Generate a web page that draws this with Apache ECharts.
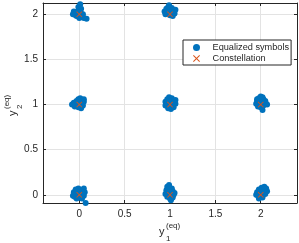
<!DOCTYPE html>
<html><head><meta charset="utf-8">
<script src="https://cdn.jsdelivr.net/npm/echarts@6/dist/echarts.min.js"></script>
<style>html,body{margin:0;padding:0;background:#fff}#c{width:299px;height:243px}</style>
</head><body><div id="c"></div>
<script>
// Tick labels
const xTicks = [0, 0.5, 1, 1.5, 2];
const yTicks = [0, 0.5, 1, 1.5, 2];
// Constellation points (y1, y2)
const constellation = [[0,0],[1,0],[2,0],[0,1],[1,1],[2,1],[0,2],[1,2]];
// Equalized symbols, read per cluster
const cluster00 = [[-0.07,-0.01],[-0.06,0.03],[-0.04,0.06],[-0.01,0.07],[0.02,0.05],[0.05,0.07],[0.06,0.03],[0.05,-0.01],[0.03,-0.04],[0.00,-0.03],[-0.03,-0.04],[-0.05,-0.02],[0.00,0.02],[0.03,0.01],[0.07,-0.09],[-0.02,0.04],[-0.04,0.01],[0.02,-0.02]];
const cluster10 = [[0.97,0.09],[0.99,0.11],[1.02,0.07],[0.96,0.05],[1.03,0.04],[1.05,0.02],[0.95,0.01],[0.97,-0.02],[1.00,-0.04],[1.03,-0.03],[1.04,0.00],[1.00,0.03],[0.98,0.00],[1.01,-0.06],[0.98,0.06],[1.02,0.01]];
const cluster20 = [[1.95,0.00],[1.96,0.03],[1.98,0.06],[2.01,0.08],[2.04,0.09],[2.06,0.07],[2.07,0.04],[2.05,0.01],[2.02,-0.03],[1.98,-0.04],[2.00,0.02],[2.03,0.04],[1.97,-0.01],[2.01,0.05],[2.04,0.06],[1.99,0.00]];
const cluster01 = [[-0.08,1.00],[-0.06,1.02],[-0.05,0.98],[-0.03,1.04],[-0.01,1.06],[0.01,1.07],[0.03,1.05],[0.05,1.03],[0.04,0.99],[0.02,0.96],[-0.01,0.97],[0.00,1.02],[-0.04,1.01],[0.03,1.01],[0.05,1.06],[-0.02,1.00]];
const cluster11 = [[0.95,1.03],[0.97,1.06],[0.99,1.08],[1.02,1.07],[1.04,1.04],[1.06,1.01],[1.04,0.97],[1.01,0.95],[0.98,0.96],[0.95,0.99],[1.00,1.02],[1.03,1.00],[0.97,1.01],[1.06,1.05],[1.01,0.98],[0.99,1.04]];
const cluster21 = [[1.96,1.04],[1.98,1.07],[2.00,1.09],[2.03,1.06],[2.05,1.03],[2.07,1.00],[1.95,1.01],[1.97,0.98],[2.00,0.97],[2.03,0.99],[2.01,1.03],[1.99,1.02],[2.02,0.94],[2.05,1.04],[1.96,1.06],[2.02,1.08]];
const cluster02 = [[-0.07,2.00],[-0.05,2.02],[-0.03,1.98],[0.00,2.04],[0.02,2.01],[-0.01,2.08],[0.01,2.11],[0.03,1.97],[0.05,1.96],[0.08,1.95],[-0.04,1.99],[0.02,2.06],[-0.02,2.03],[0.04,2.00],[0.00,1.96],[-0.06,2.03],[0.01,2.03]];
const cluster12 = [[0.94,2.03],[0.96,2.06],[0.98,2.08],[1.00,2.05],[1.02,2.07],[1.04,2.04],[1.05,2.01],[0.97,2.01],[1.01,2.02],[1.03,1.98],[0.95,2.00],[1.00,1.99],[1.06,2.05],[0.99,2.10],[1.02,2.03],[0.98,2.04]];
const equalized = [].concat(cluster00, cluster10, cluster20, cluster01, cluster11, cluster21, cluster02, cluster12);

const axisColor = '#262626';
const gridColor = '#e3e3e3';
const xPath = 'path://M0,1L1,0L5,4L9,0L10,1L6,5L10,9L9,10L5,6L1,10L0,9L4,5Z';
const font = 'Liberation Sans, Arial, sans-serif';

function xAx(pos, show) {
  return {
    type: 'value', position: pos, min: -0.4, max: 2.4,
    axisLine: {show: true, onZero: false, lineStyle: {color: axisColor, width: 1}},
    axisTick: {show: true, inside: true, length: 3, customValues: xTicks, lineStyle: {color: axisColor}},
    axisLabel: {show: show, customValues: xTicks, color: axisColor, fontSize: 10, fontFamily: font, margin: 6},
    splitLine: {show: show, lineStyle: {color: gridColor, width: 1}}
  };
}
function yAx(pos, show) {
  return {
    type: 'value', position: pos, min: -0.09, max: 2.125,
    axisLine: {show: true, onZero: false, lineStyle: {color: axisColor, width: 1}},
    axisTick: {show: true, inside: true, length: 3, customValues: yTicks, lineStyle: {color: axisColor}},
    axisLabel: {show: show, customValues: yTicks, color: axisColor, fontSize: 10, fontFamily: font, margin: 5},
    splitLine: {show: show, lineStyle: {color: gridColor, width: 1}}
  };
}

const chart = echarts.init(document.getElementById('c'), null, {renderer: 'canvas'});
chart.setOption({
  animation: false,
  backgroundColor: '#fff',
  grid: {left: 43, right: 2, top: 3, bottom: 40, containLabel: false},
  xAxis: [xAx('bottom', true), xAx('top', false)],
  yAxis: [yAx('left', true), yAx('right', false)],
  legend: {
    left: 183, top: 40, orient: 'vertical',
    backgroundColor: '#fff', borderColor: axisColor, borderWidth: 1,
    padding: [3, 2, 2, 10], itemGap: 2, itemWidth: 12, itemHeight: 7,
    textStyle: {fontSize: 9.2, fontFamily: font, color: axisColor, padding: [0, 0, 0, 5]},
    data: [
      {name: 'Equalized symbols', icon: 'circle'},
      {name: 'Constellation', icon: xPath}
    ]
  },
  series: [
    {name: 'Equalized symbols', type: 'scatter', data: equalized, symbol: 'circle', symbolSize: 6,
     itemStyle: {color: '#0072BD', opacity: 1}, z: 2},
    {name: 'Constellation', type: 'scatter', data: constellation, symbol: xPath, symbolSize: 6,
     itemStyle: {color: '#D95319', opacity: 1}, z: 3}
  ],
  graphic: [
    {type: 'text', left: 159, top: 226, style: {text: 'y', fontSize: 11, fontFamily: font, fill: axisColor}},
    {type: 'text', left: 166, top: 222, style: {text: '(eq)', fontSize: 8, fontFamily: font, fill: axisColor}},
    {type: 'text', left: 166, top: 235, style: {text: '1', fontSize: 8, fontFamily: font, fill: axisColor}},
    {type: 'group', x: 7, y: 116, rotation: Math.PI / 2, children: [
      {type: 'text', x: 0, y: 0, style: {text: 'y', fontSize: 11, fontFamily: font, fill: axisColor}},
      {type: 'text', x: 7, y: -4, style: {text: '(eq)', fontSize: 8, fontFamily: font, fill: axisColor}},
      {type: 'text', x: 7, y: 9, style: {text: '2', fontSize: 8, fontFamily: font, fill: axisColor}}
    ]}
  ]
});
</script></body></html>
